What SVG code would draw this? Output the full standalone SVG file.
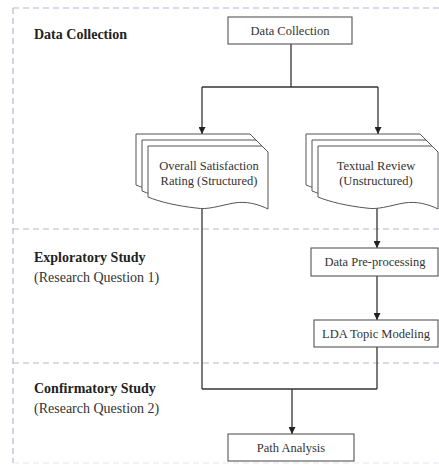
<svg xmlns="http://www.w3.org/2000/svg" width="439" height="468" viewBox="0 0 439 468">
<style>
.sep{stroke:#b3b9cf;stroke-width:1.2;stroke-dasharray:6 4;fill:none}
.box{fill:#fff;stroke:#555;stroke-width:1.1}
.doc{fill:#fff;stroke:#555;stroke-width:1}
.ln{stroke:#333;stroke-width:1.3;fill:none}
.t{font-family:"Liberation Serif","Times New Roman",serif;font-size:12.5px;fill:#333;text-anchor:middle}
.h{font-family:"Liberation Serif","Times New Roman",serif;font-size:14px;font-weight:bold;fill:#222}
.s{font-family:"Liberation Serif","Times New Roman",serif;font-size:14px;fill:#333}
</style>
<defs>
<marker id="ar" viewBox="0 0 10 10" refX="10" refY="5" markerWidth="7" markerHeight="7" markerUnits="userSpaceOnUse" orient="auto">
<path d="M0,0 L10,5 L0,10 Z" fill="#222"/>
</marker>
<path id="page" d="M0,0 H114 L120,6 V63 C110,58 98,55 86,57 C70,60 60,64 48,62 C30,60 12,56 0,51 Z"/>
</defs>
<rect width="439" height="468" fill="#fff"/>
<g id="frame">
<path class="sep" d="M13,8 H439"/>
<path class="sep" d="M13,8 V463"/>
<path class="sep" d="M13,463 H439" style="stroke:#e4e7ef"/>
<path class="sep" d="M13,229 H439"/>
<path class="sep" d="M13,363 H439"/>
</g>
<g id="labels">
<text class="h" x="34" y="39">Data Collection</text>
<text class="h" x="34" y="262">Exploratory Study</text>
<text class="s" x="34" y="282">(Research Question 1)</text>
<text class="h" x="34" y="393">Confirmatory Study</text>
<text class="s" x="34" y="413">(Research Question 2)</text>
</g>
<g id="connectors">
<path class="ln" d="M291,44 V87"/>
<path class="ln" d="M202,87 H378"/>
<path class="ln" d="M202,87 V134" marker-end="url(#ar)"/>
<path class="ln" d="M378,87 V134" marker-end="url(#ar)"/>
<path class="ln" d="M202,206 V389"/>
<path class="ln" d="M377,206 V248" marker-end="url(#ar)"/>
<path class="ln" d="M377,276 V320" marker-end="url(#ar)"/>
<path class="ln" d="M377,347 V389"/>
<path class="ln" d="M202,389 H377"/>
<path class="ln" d="M292,389 V434" marker-end="url(#ar)"/>
</g>
<g id="n-data-collection">
<rect class="box" x="228" y="17" width="124" height="27"/>
<text class="t" x="290" y="35">Data Collection</text>
</g>
<g id="n-rating">
<use href="#page" class="doc" x="136" y="134"/>
<use href="#page" class="doc" x="142" y="140"/>
<use href="#page" class="doc" x="148" y="146"/>
<text class="t" x="209" y="170">Overall Satisfaction</text>
<text class="t" x="209" y="185">Rating (Structured)</text>
</g>
<g id="n-review">
<use href="#page" class="doc" x="306" y="134"/>
<use href="#page" class="doc" x="312" y="140"/>
<use href="#page" class="doc" x="318" y="146"/>
<text class="t" x="376" y="170">Textual Review</text>
<text class="t" x="376" y="185">(Unstructured)</text>
</g>
<g id="n-preprocessing">
<rect class="box" x="311" y="248" width="127" height="28"/>
<text class="t" x="375" y="266">Data Pre-processing</text>
</g>
<g id="n-lda">
<rect class="box" x="314" y="320" width="124" height="27"/>
<text class="t" x="376" y="338">LDA Topic Modeling</text>
</g>
<g id="n-path">
<rect class="box" x="228" y="434" width="126" height="27"/>
<text class="t" x="291" y="452">Path Analysis</text>
</g>
</svg>
